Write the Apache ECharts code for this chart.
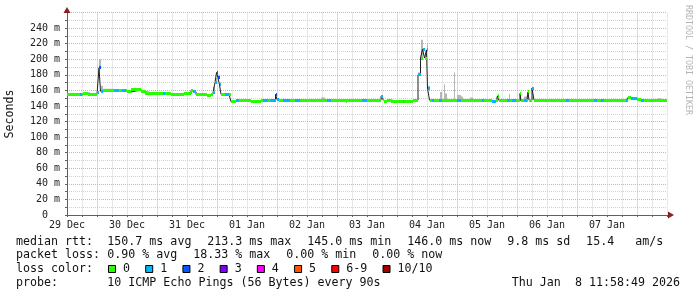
<!DOCTYPE html>
<html><head><meta charset="utf-8">
<script src="https://cdn.jsdelivr.net/npm/echarts@6/dist/echarts.min.js"></script>
<style>html,body{margin:0;padding:0;background:#fff}#c{width:697px;height:297px}</style>
</head><body><div id="c"></div>
<script>
// ---- data (time in hours since 29 Dec 12:00, values in ms) ----
const xLabels = ['29 Dec','30 Dec','31 Dec','01 Jan','02 Jan','03 Jan','04 Jan','05 Jan','06 Jan','07 Jan'];
const hours = [0,5.2,6.0,6.4,8.4,12.0,12.8,13.4,14.4,18.8,20.8,22.0,23.6,24.0,25.6,29.6,31.2,38.4,39.2,41.6,
  46.8,49.6,50.4,51.6,56.0,57.6,58.4,59.2,59.8,60.4,61.0,61.6,63.2,64.8,65.6,67.6,68.8,73.6,77.6,78.4,
  80.4,81.2,83.4,84.0,84.8,86.4,89.2,91.2,93.2,101.6,103.2,104.0,105.6,111.6,112.0,118.0,120.0,125.6,126.4,126.8,
  128.0,129.6,134.4,134.8,138.4,140.4,141.4,142.2,143.0,143.8,144.2,145.0,146.0,146.8,148.8,149.2,150.0,150.8,151.2,152.0,
  154.8,155.2,156.0,157.6,158.4,161.2,162.4,166.0,166.8,170.0,171.6,172.2,172.6,176.0,176.8,177.2,178.0,179.6,181.2,181.6,
  182.8,184.0,184.4,184.8,186.0,186.8,199.6,200.8,210.8,212.0,213.6,214.8,217.6,218.8,223.6,224.4,225.6,228.0,229.6,230.8,
  236.0,237.6,240];
const median = [155,155,155,156.5,155,157,189,159,160,160,160,160,160,158,160.5,158,155.5,155.5,155.5,155,
  155.5,160,158,154.5,153.5,155,157,170,183,176,167,155,155,155,145.5,147,147,146,147,147.5,
  147.5,147.5,155,148,147.5,147.5,147.5,147.5,147.5,147.5,147.5,147.5,147.5,146,147.5,147.5,147.5,152,148,145.5,
  147.5,145.5,145.5,145.5,147.5,180,201.5,213,201.5,212,163,147.5,147.5,147.5,147.5,147.5,147.5,147.5,147.5,147.5,
  147.5,147.5,147.5,147.5,147,147.5,147,147.5,147.5,145.5,147,153,147.5,147.5,147.5,147.5,147.5,146.5,156,146.5,
  147.5,147.5,158,147.5,163,147.5,147.5,147.5,147.5,147.5,147.5,147.5,146.5,147.5,147.5,151,150,148,147.5,147.5,
  147.5,147.5,147.5];
const loss = [0,1,0,0,0,1,2,1,0,1,0,1,0,0,0,0,0,1,0,0,
  0,0,1,0,0,0,1,1,2,2,1,0,1,0,0,1,0,0,0,1,
  0,1,2,1,0,1,0,1,0,0,0,1,0,0,0,1,0,1,0,0,
  0,0,1,0,0,1,0,1,0,1,1,0,1,0,1,1,0,0,0,0,
  0,0,1,0,0,0,0,1,0,1,0,0,0,1,1,0,1,0,0,0,
  1,0,0,0,1,0,1,0,1,0,1,0,0,0,1,0,1,0,1,0,
  0,0,0];
const smokeMax = [155,155,155,156.5,155,157,200,166,162,160,160,160,160,158,160.5,158,155.5,155.5,155.5,155,
  155.5,160,158,154.5,153.5,155,165,176,184,180,170,155,155,155,145.5,147,147,146,147,147.5,
  147.5,147.5,156,148,147.5,147.5,147.5,147.5,147.5,151,147.5,147.5,147.5,146,147.5,147.5,147.5,152,148,145.5,
  147.5,145.5,145.5,145.5,147.5,183,225,214,206,220,166,147.5,147.5,147.5,147.5,158,147.5,168,156,147.5,
  183,147.5,154,152,147,151,147,147.5,147.5,145.5,147,153,147.5,147.5,155,147.5,147.5,146.5,156,146.5,
  152,147.5,158,147.5,163,147.5,147.5,147.5,147.5,147.5,147.5,147.5,146.5,147.5,147.5,151,150,148,147.5,147.5,
  150,147.5,147.5];
const lossLabels = ['0','1','2','3','4','5','6-9','10/10'];
const lossColors = ['#26ff00','#00b8ff','#0059ff','#7e00ff','#ff00ff','#ff5500','#ff0000','#a10000'];
const rttStats = ['150.7 ms avg','213.3 ms max','145.0 ms min','146.0 ms now','9.8 ms sd','15.4   am/s'];
const lossStats = ['0.90 % avg','18.33 % max','0.00 % min','0.00 % now'];
const probeText = '10 ICMP Echo Pings (56 Bytes) every 90s';
const dateText = 'Thu Jan  8 11:58:49 2026';

// ---- styling / layout ----
const MONO = '"DejaVu Sans Mono"';
const FS = 11.65, CW = FS * 0.6021;
const BAND_PX = 3;
const GRID = {left: 67, right: 30, top: 12.5, bottom: 82};

// interval table built from the arrays: [start, end, median, loss, smokeMax]
const intervals = [];
for (let i = 0; i < hours.length - 1; i++) intervals.push([hours[i], hours[i + 1], median[i], loss[i], smokeMax[i]]);

function smokeItem(params, api) {
  const m = api.value(2), s = api.value(4);
  if (!(s > m)) return null;
  const a = api.coord([api.value(0), s]), b = api.coord([api.value(1), m]);
  const x0 = Math.round(a[0]), x1 = Math.max(Math.round(b[0]), x0 + 1);
  return {type: 'rect', shape: {x: x0, y: a[1], width: x1 - x0, height: b[1] - a[1]}, style: {fill: '#b6b6b6'}};
}
function bandItem(params, api) {
  const a = api.coord([api.value(0), api.value(2)]), b = api.coord([api.value(1), api.value(2)]);
  const x0 = Math.round(a[0]), x1 = Math.max(Math.round(b[0]), x0 + 1);
  return {type: 'rect', z2: 10, shape: {x: x0, y: Math.round(a[1] - BAND_PX / 2), width: x1 - x0, height: BAND_PX},
    style: {fill: lossColors[api.value(3)]}};
}

const series = [
  {type: 'custom', z: 2, data: intervals, renderItem: smokeItem, encode: {x: [0, 1], y: [2, 4]}, silent: true, clip: true},
  {type: 'line', z: 3, step: 'end', symbol: 'none', showSymbol: false, silent: true,
    data: hours.map((h, i) => [h, median[i]]), lineStyle: {color: '#202020', width: 1}},
  {type: 'custom', z: 4, data: intervals, renderItem: bandItem, encode: {x: [0, 1], y: 2}, silent: true, clip: true}
];

function txt(s, x, y, o) {
  o = o || {};
  return {type: 'text', x: x, y: y, rotation: o.rot || 0, silent: true, z: 10,
    style: {text: s, x: 0, y: 0, font: (o.size || FS) + 'px ' + MONO, fill: o.color || '#111',
      align: o.align || 'left', textAlign: o.align || 'left', verticalAlign: 'middle', textVerticalAlign: 'middle'}};
}
const graphics = [];
const ROWS = [241.5, 255.2, 269, 282.8];
const COL = 107.3, GAP = 15.8;
function row(label, pieces, y) {
  graphics.push(txt(label, 16, y));
  let x = COL;
  pieces.forEach(p => { graphics.push(txt(p, x, y)); x += p.length * CW + GAP; });
}
row('median rtt:', rttStats, ROWS[0]);
row('packet loss:', lossStats, ROWS[1]);
graphics.push(txt('loss color:', 16, ROWS[2]));
let bx = 108;
lossLabels.forEach((lab, i) => {
  graphics.push({type: 'rect', silent: true, z: 10, shape: {x: bx + 0.5, y: ROWS[2] - 3.5, width: 7, height: 7},
    style: {fill: lossColors[i], stroke: '#000', lineWidth: 1}});
  graphics.push(txt(lab, bx + 15, ROWS[2]));
  bx += 15 + lab.length * CW + 15.2;
});
graphics.push(txt('probe:', 16, ROWS[3]));
graphics.push(txt(probeText, COL, ROWS[3]));
graphics.push(txt(dateText, 680, ROWS[3], {align: 'right'}));
graphics.push(txt('Seconds', 10, 114, {rot: Math.PI / 2, align: 'center'}));
graphics.push(txt('RRDTOOL / TOBI OETIKER', 688, 60, {rot: -Math.PI / 2, align: 'center', size: 8.3, color: '#b4b4b4'}));
const ARROW = '#8b1f1f';
const x0 = GRID.left, yb = 297 - GRID.bottom, xr = 697 - GRID.right;
graphics.push({type: 'polygon', silent: true, z: 10, shape: {points: [[x0 - 3.5, GRID.top + 0.5], [x0 + 3.5, GRID.top + 0.5], [x0, GRID.top - 5.5]]}, style: {fill: ARROW}});
graphics.push({type: 'polygon', silent: true, z: 10, shape: {points: [[xr + 1, yb - 3.5], [xr + 1, yb + 3.5], [xr + 7, yb]]}, style: {fill: ARROW}});

const AX = '#606060';
const chart = echarts.init(document.getElementById('c'), null, {renderer: 'canvas'});
chart.setOption({
  animation: false,
  backgroundColor: '#ffffff',
  grid: {left: GRID.left, right: GRID.right, top: GRID.top, bottom: GRID.bottom, containLabel: false},
  xAxis: {type: 'value', min: 0, max: 240, interval: 6,
    axisLine: {show: true, onZero: false, lineStyle: {color: AX, width: 1}},
    axisTick: {show: true, length: 2, lineStyle: {color: AX}},
    axisLabel: {fontFamily: MONO, fontSize: 10, color: '#222', margin: 5,
      formatter: v => (v % 24 === 0 && v / 24 < xLabels.length) ? xLabels[v / 24] : ''},
    splitLine: {show: true, lineStyle: {color: ['#d2d2d2', '#d2d2d2', '#e6a8a8', '#d2d2d2'], type: [1, 1], width: 1}}
  },
  yAxis: {type: 'value', min: 0, max: 260, interval: 10,
    axisLine: {show: true, lineStyle: {color: AX, width: 1}},
    axisTick: {show: true, length: 2, lineStyle: {color: AX}},
    axisLabel: {fontFamily: MONO, fontSize: 10, color: '#222', margin: 7,
      formatter: v => v === 0 ? '0  ' : ((v % 20 === 0 && v <= 240) ? v + ' m' : '')},
    splitLine: {show: true, lineStyle: {color: ['#e6a8a8', '#d2d2d2'], type: [1, 1], width: 1}}
  },
  series: series,
  graphic: graphics
});
</script>
</body></html>
